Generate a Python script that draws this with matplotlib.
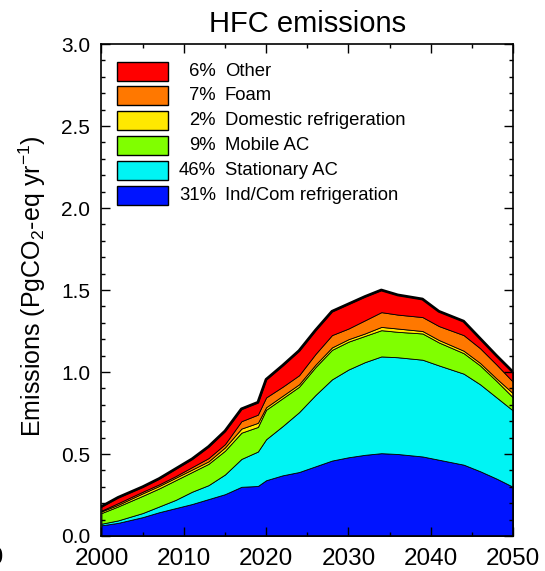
import matplotlib
matplotlib.use("Agg")
import matplotlib.pyplot as plt
import numpy as np
from matplotlib.patches import Rectangle
from matplotlib.ticker import MultipleLocator, FormatStrFormatter

plt.rcParams['font.family'] = ['Liberation Sans', 'DejaVu Sans']
plt.rcParams['mathtext.fontset'] = 'custom'
plt.rcParams['mathtext.rm'] = 'Liberation Sans'
plt.rcParams['mathtext.it'] = 'Liberation Sans:italic'

# HFC emissions by sector (PgCO2-eq per year)
years = [2000, 2002, 2005, 2007, 2009, 2011, 2013, 2015, 2017, 2019, 2020,
         2022, 2024, 2026, 2028, 2030, 2032, 2034, 2036, 2039, 2041, 2044,
         2046, 2048, 2050]
ind_com_refrig = [0.065, 0.080, 0.115, 0.145, 0.170, 0.195, 0.225, 0.255, 0.300,
                  0.305, 0.340, 0.370, 0.390, 0.425, 0.460, 0.480, 0.495, 0.505,
                  0.500, 0.485, 0.465, 0.435, 0.395, 0.350, 0.300]
stationary_ac = [0.010, 0.015, 0.025, 0.035, 0.050, 0.075, 0.085, 0.120, 0.170,
                 0.210, 0.250, 0.300, 0.365, 0.435, 0.495, 0.535, 0.565, 0.590,
                 0.590, 0.590, 0.575, 0.555, 0.530, 0.495, 0.465]
mobile_ac = [0.065, 0.085, 0.105, 0.110, 0.120, 0.120, 0.130, 0.145, 0.160,
             0.150, 0.180, 0.170, 0.155, 0.170, 0.180, 0.170, 0.160, 0.160,
             0.155, 0.160, 0.140, 0.125, 0.115, 0.100, 0.080]
domestic_refrig = [0.010, 0.010, 0.015, 0.015, 0.015, 0.015, 0.015, 0.020, 0.025,
                   0.025, 0.015, 0.015, 0.015, 0.015, 0.015, 0.015, 0.015, 0.020,
                   0.020, 0.015, 0.015, 0.015, 0.015, 0.015, 0.025]
foam = [0.005, 0.010, 0.010, 0.010, 0.010, 0.015, 0.020, 0.020, 0.045,
        0.050, 0.060, 0.055, 0.055, 0.065, 0.075, 0.065, 0.080, 0.090,
        0.085, 0.085, 0.085, 0.095, 0.090, 0.085, 0.070]
other = [0.025, 0.035, 0.030, 0.035, 0.045, 0.050, 0.070, 0.080, 0.075,
         0.075, 0.110, 0.130, 0.150, 0.145, 0.145, 0.150, 0.145, 0.135,
         0.120, 0.110, 0.090, 0.085, 0.060, 0.055, 0.060]

sector_names = ["Ind/Com refrigeration", "Stationary AC", "Mobile AC",
                "Domestic refrigeration", "Foam", "Other"]
sector_shares = ["31%", "46%", "9%", "2%", "7%", "6%"]
sector_colors = ["#0014ff", "#00f4f4", "#80ff00", "#ffe800", "#ff7800", "#ff0000"]

layers = [ind_com_refrig, stationary_ac, mobile_ac, domestic_refrig, foam, other]

fig = plt.figure(figsize=(5.45, 5.71), dpi=100)
ax = fig.add_axes([0.1862, 0.0613, 0.7551, 0.8616])

ax.stackplot(years, *layers, colors=sector_colors, edgecolor='black',
             linewidth=0.6)
total = np.sum(np.array(layers), axis=0)
ax.plot(years, total, color='black', linewidth=2.0, solid_joinstyle='round')

ax.set_xlim(2000, 2050)
ax.set_ylim(0, 3.0)
ax.xaxis.set_major_locator(MultipleLocator(10))
ax.xaxis.set_minor_locator(MultipleLocator(5))
ax.yaxis.set_major_locator(MultipleLocator(0.5))
ax.yaxis.set_minor_locator(MultipleLocator(0.1))
ax.yaxis.set_major_formatter(FormatStrFormatter('%.1f'))
ax.tick_params(which='both', direction='in', top=True, right=True, width=1.0)
ax.tick_params(which='major', length=6.5)
ax.tick_params(which='minor', length=3.2)
ax.tick_params(axis='x', which='major', labelsize=17.5, pad=9)
ax.tick_params(axis='y', which='major', labelsize=15, pad=8)
for s in ax.spines.values():
    s.set_linewidth(1.2)
ax.set_axisbelow(False)

ax.set_title("HFC emissions", fontsize=21, pad=9)
fig.text(32 / 545, 1 - 286 / 571, r'Emissions (PgCO$_2$-eq yr$^{-1}$)',
         rotation=90, ha='center', va='center', fontsize=18)

# legend drawn as boxes with right-aligned shares
row_y = [0.945, 0.8947, 0.8443, 0.794, 0.7435, 0.693]
for i, idx in enumerate(range(len(sector_names) - 1, -1, -1)):
    yc = row_y[i]
    ax.add_patch(Rectangle((0.037, yc - 0.0193), 0.124, 0.0386,
                           transform=ax.transAxes, facecolor=sector_colors[idx],
                           edgecolor='black', linewidth=1.0, zorder=5))
    ax.text(0.278, yc, sector_shares[idx], transform=ax.transAxes,
            ha='right', va='center', fontsize=13.3)
    ax.text(0.300, yc, sector_names[idx], transform=ax.transAxes,
            ha='left', va='center', fontsize=13.3)

# tick label of the neighbouring panel cut by the left edge
fig.text(4 / 545, 1 - 558 / 571, "2050", ha='right', va='center', fontsize=17.5)

fig.savefig("out.png", dpi=100)
